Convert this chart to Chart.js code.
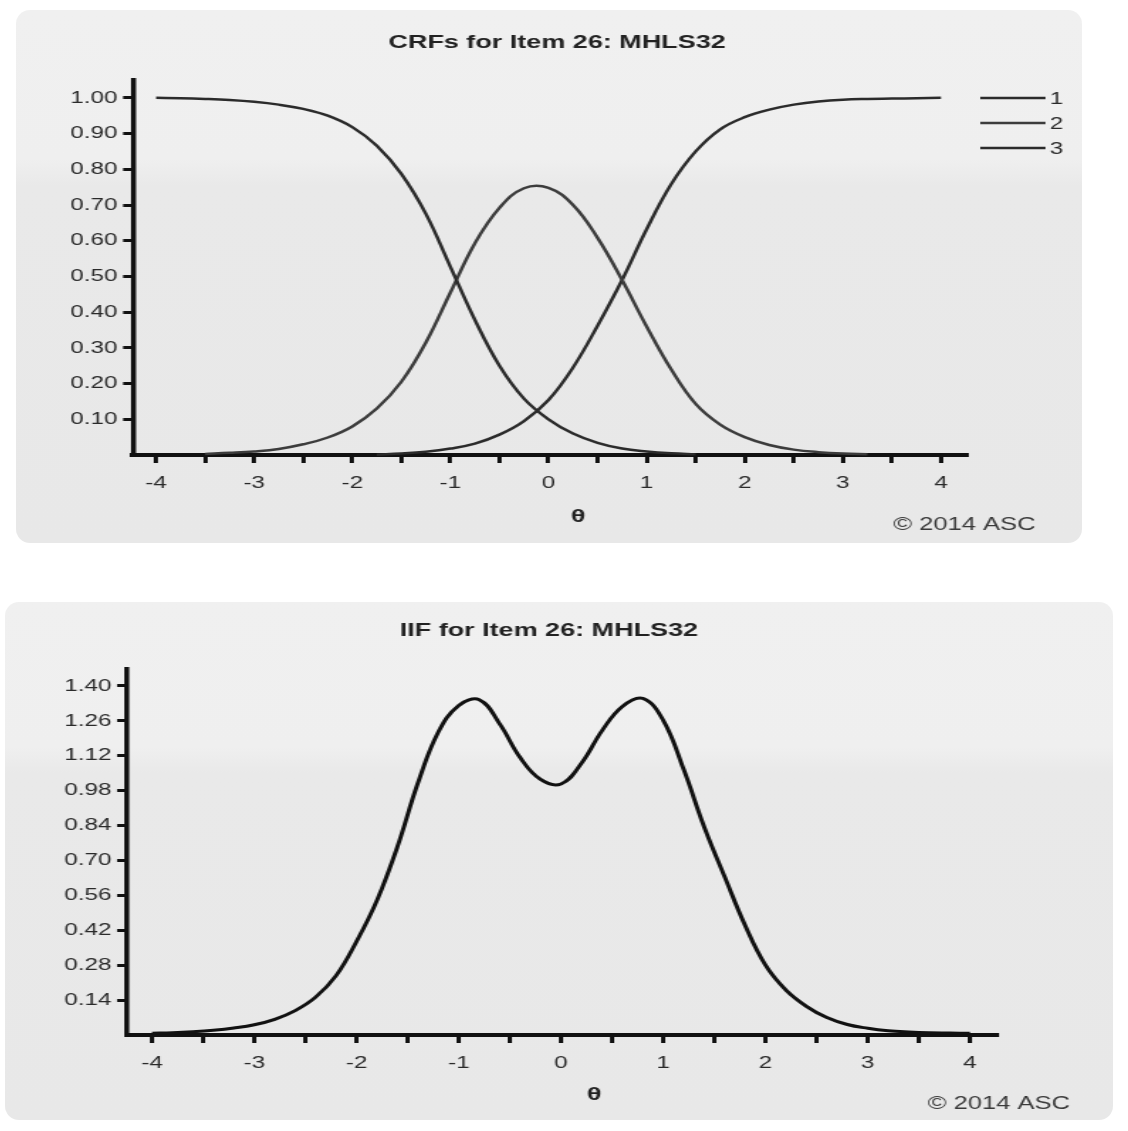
<!DOCTYPE html>
<html>
<head>
<meta charset="utf-8">
<title>CRFs and IIF for Item 26: MHLS32</title>
<script src="https://cdn.jsdelivr.net/npm/chart.js@4.4.1/dist/chart.umd.min.js"></script>
<style>
  html, body { margin: 0; padding: 0; background: #fff; }
  body { width: 1128px; height: 1131px; position: relative; overflow: hidden; }
  .panel {
    position: absolute;
    border-radius: 14px;
    background: linear-gradient(#f0f0f0 0%, #efefef 28%, #e9e9e9 33%, #e8e8e8 100%);
  }
  .stretch { position: absolute; left: 0; top: 0; transform-origin: 0 0; transform: scaleX(1.42); }
  canvas { display: block; }
</style>
</head>
<body>
<div class="panel" style="left:16px;top:10px;width:1066px;height:533px;">
  <div class="stretch"><canvas id="crf-chart" width="751" height="533"></canvas></div>
</div>
<div class="panel" style="left:5px;top:602px;width:1108px;height:518px;">
  <div class="stretch"><canvas id="iif-chart" width="780" height="518"></canvas></div>
</div>
<script>
// category response functions, theta grid in steps of 0.25
const crfTheta = [-4, -3.75, -3.5, -3.25, -3, -2.75, -2.5, -2.25, -2, -1.75, -1.5, -1.25, -1, -0.75, -0.5, -0.25,
                  0, 0.25, 0.5, 0.75, 1, 1.25, 1.5, 1.75, 2, 2.25, 2.5, 2.75, 3, 3.25, 3.5, 3.75, 4];
const crfCat1 = [1.000, 0.999, 0.997, 0.994, 0.989, 0.981, 0.969, 0.950, 0.918, 0.866, 0.787, 0.675, 0.527, 0.378, 0.250, 0.158,
                 0.100, 0.060, 0.034, 0.018, 0.010, 0.005, 0.002, null, null, null, null, null, null, null, null, null, null];
const crfCat2 = [null, null, 0.003, 0.006, 0.010, 0.017, 0.030, 0.049, 0.080, 0.130, 0.205, 0.315, 0.455, 0.593, 0.692, 0.747,
                 0.748, 0.700, 0.608, 0.490, 0.360, 0.240, 0.143, 0.085, 0.050, 0.028, 0.015, 0.008, 0.004, 0.002, null, null, null];
const crfCat3 = [null, null, null, null, null, null, null, null, null, 0.001, 0.004, 0.009, 0.018, 0.032, 0.057, 0.095,
                 0.154, 0.245, 0.362, 0.490, 0.632, 0.758, 0.850, 0.912, 0.946, 0.967, 0.981, 0.990, 0.995, 0.997, 0.998, 0.999, 1.000];

// item information function, theta grid in steps of 0.2
const iifTheta = [-4, -3.8, -3.6, -3.4, -3.2, -3, -2.8, -2.6, -2.4, -2.2, -2, -1.8, -1.6, -1.4, -1.2, -1, -0.8, -0.6, -0.4, -0.2,
                  0, 0.2, 0.4, 0.6, 0.8, 1, 1.2, 1.4, 1.6, 1.8, 2, 2.2, 2.4, 2.6, 2.8, 3, 3.2, 3.4, 3.6, 3.8, 4];
const iifInfo = [0.007, 0.009, 0.013, 0.019, 0.028, 0.041, 0.063, 0.098, 0.152, 0.238, 0.375, 0.540, 0.755, 1.010, 1.215, 1.322,
                 1.345, 1.248, 1.113, 1.025, 1.007, 1.090, 1.220, 1.318, 1.350, 1.262, 1.065, 0.835, 0.635, 0.440, 0.280,
                 0.180, 0.115, 0.070, 0.042, 0.027, 0.017, 0.012, 0.009, 0.008, 0.007];

const thetaTicks = [-4, -3.5, -3, -2.5, -2, -1.5, -1, -0.5, 0, 0.5, 1, 1.5, 2, 2.5, 3, 3.5, 4];
const crfYTicks = [0.1, 0.2, 0.3, 0.4, 0.5, 0.6, 0.7, 0.8, 0.9, 1.0];
const iifYTicks = [0.14, 0.28, 0.42, 0.56, 0.70, 0.84, 0.98, 1.12, 1.26, 1.40];

const FONT = '"Liberation Sans", Arial, sans-serif';

function points(xs, ys) {
  return xs.map((x, i) => ({ x: x, y: ys[i] }));
}

function curve(label, xs, ys, color, width) {
  return {
    label: label,
    data: points(xs, ys),
    borderColor: color,
    borderWidth: width,
    pointRadius: 0,
    fill: false,
    spanGaps: false,
    clip: false,
    tension: 0.4
  };
}

// titles, theta label, legend and credit line
const panelText = {
  id: "panelText",
  afterDraw(chart, args, opts) {
    const ctx = chart.ctx;
    ctx.save();
    ctx.textBaseline = "middle";
    ctx.textAlign = "center";
    ctx.fillStyle = "#222";
    ctx.font = "bold 19px " + FONT;
    ctx.fillText(opts.title, opts.titleX, opts.titleY);
    ctx.fillText("θ", opts.thetaX, opts.thetaY);

    ctx.font = "18px " + FONT;
    ctx.fillStyle = "#3a3a3a";
    ctx.textAlign = "right";
    ctx.fillText("© 2014 ASC", opts.creditX, opts.creditY);

    if (opts.legend) {
      const lg = opts.legend;
      ctx.font = "17px " + FONT;
      ctx.textAlign = "left";
      chart.data.datasets.forEach((ds, i) => {
        const y = lg.y + i * lg.gap;
        ctx.strokeStyle = ds.borderColor;
        ctx.lineWidth = ds.borderWidth;
        ctx.beginPath();
        ctx.moveTo(lg.x, y);
        ctx.lineTo(lg.x + lg.len, y);
        ctx.stroke();
        ctx.fillStyle = "#2a2a2a";
        ctx.fillText(ds.label, lg.x + lg.len + 3, y + 1);
      });
    }
    ctx.restore();
  }
};

function makeChart(canvasId, datasets, cfg) {
  return new Chart(document.getElementById(canvasId), {
    type: "line",
    data: { datasets: datasets },
    options: {
      responsive: false,
      animation: false,
      events: [],
      layout: { padding: cfg.padding },
      plugins: {
        legend: { display: false },
        title: { display: false },
        tooltip: { enabled: false },
        panelText: cfg.text
      },
      scales: {
        x: {
          type: "linear",
          min: cfg.xMin,
          max: cfg.xMax,
          afterBuildTicks: s => { s.ticks = thetaTicks.map(v => ({ value: v })); },
          afterFit: s => { s.height = 60; },
          ticks: {
            autoSkip: false,
            maxRotation: 0,
            padding: 10,
            color: "#2a2a2a",
            font: { family: FONT, size: 17 },
            callback: v => Number.isInteger(v) ? String(v) : ""
          },
          grid: { drawOnChartArea: false, tickLength: 8, tickWidth: 3, tickColor: "#111" },
          border: { color: "#111", width: 4 }
        },
        y: {
          type: "linear",
          min: 0,
          max: cfg.yMax,
          afterBuildTicks: s => { s.ticks = cfg.yTicks.map(v => ({ value: v })); },
          afterFit: s => { s.width = 70; },
          ticks: {
            padding: 4,
            color: "#2a2a2a",
            font: { family: FONT, size: 17 },
            callback: v => v.toFixed(2)
          },
          grid: { drawOnChartArea: false, tickLength: 7, tickWidth: 3, tickColor: "#111" },
          border: { color: "#111", width: 3.5 }
        }
      }
    },
    plugins: [panelText]
  });
}

makeChart("crf-chart", [
  curve("1", crfTheta, crfCat1, "#2b2b2b", 2.5),
  curve("2", crfTheta, crfCat2, "#3c3c3c", 2.5),
  curve("3", crfTheta, crfCat3, "#2b2b2b", 2.5)
], {
  padding: { left: 12.4, right: 80.3, top: 70, bottom: 28 },
  xMin: -4.235, xMax: 4.28, yMax: 1.05, yTicks: crfYTicks,
  text: {
    title: "CRFs for Item 26: MHLS32", titleX: 381, titleY: 33,
    thetaX: 396, thetaY: 507,
    creditX: 718, creditY: 515,
    legend: { x: 679, len: 46, y: 88, gap: 25 }
  }
});

makeChart("iif-chart", [
  curve("IIF", iifTheta, iifInfo, "#111", 3)
], {
  padding: { left: 15.9, right: 80.7, top: 67, bottom: 25 },
  xMin: -4.245, xMax: 4.274, yMax: 1.468, yTicks: iifYTicks,
  text: {
    title: "IIF for Item 26: MHLS32", titleX: 383, titleY: 29,
    thetaX: 415, thetaY: 493,
    creditX: 750, creditY: 502
  }
});
</script>
</body>
</html>
